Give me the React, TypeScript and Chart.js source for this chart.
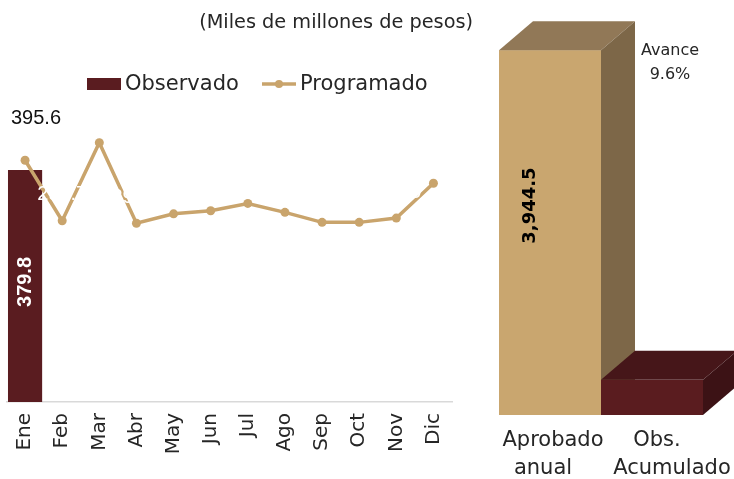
import React, { useEffect, useRef } from "react";
import { Chart, registerables } from "chart.js";

Chart.register(...registerables);

const months = ["Ene", "Feb", "Mar", "Abr", "May", "Jun", "Jul", "Ago", "Sep", "Oct", "Nov", "Dic"];
const observado: (number | null)[] = [379.8, null, null, null, null, null, null, null, null, null, null, null];
const programado = [395.6, 296.7, 424.4, 292.5, 308.0, 313.0, 325.0, 310.4, 294.0, 294.0, 301.0, 358.0];

const summaryCategories = [["Aprobado", "anual"], ["Obs.", "Acumulado"]];
const summaryValues = [3944.5, 379.8];
const avanceText = ["Avance", "9.6%"];
const titleText = "(Miles de millones de pesos)";

const MAROON = "#5a1c20";
const TAN = "#c9a46c";
const TEXT = "#262626";
const FONT = "'DejaVu Sans', sans-serif";
const NUMFONT = "'Liberation Sans', Arial, sans-serif";

const fmt = (v: number) => v.toLocaleString("en-US", { minimumFractionDigits: 1, maximumFractionDigits: 1 });

const leftPlugin = {
  id: "leftDecor",
  afterDatasetsDraw(chart: any) {
    const ctx = chart.ctx;
    ctx.save();
    // title
    ctx.fillStyle = TEXT;
    ctx.font = `19.3px ${FONT}`;
    ctx.textAlign = "right";
    ctx.textBaseline = "middle";
    ctx.fillText(titleText, 473, 23);

    // legend
    ctx.fillStyle = MAROON;
    ctx.fillRect(87, 78, 34, 12);
    ctx.fillStyle = TEXT;
    ctx.font = `21px ${FONT}`;
    ctx.textAlign = "left";
    ctx.fillText(chart.data.datasets[1].label, 125, 85);
    ctx.strokeStyle = TAN;
    ctx.lineWidth = 3.5;
    ctx.beginPath();
    ctx.moveTo(262, 84);
    ctx.lineTo(296, 84);
    ctx.stroke();
    ctx.fillStyle = TAN;
    ctx.beginPath();
    ctx.arc(279, 84, 4, 0, Math.PI * 2);
    ctx.fill();
    ctx.fillStyle = TEXT;
    ctx.fillText(chart.data.datasets[0].label, 300, 85);

    // line labels
    const lineMeta = chart.getDatasetMeta(0);
    ctx.font = `20px ${NUMFONT}`;
    lineMeta.data.forEach((pt: any, i: number) => {
      const v = programado[i];
      if (i === 0) {
        ctx.fillStyle = "#111111";
        ctx.textAlign = "left";
        ctx.fillText(fmt(v), 11, 118);
      } else {
        ctx.fillStyle = "#ffffff";
        ctx.textAlign = "center";
        ctx.fillText(fmt(v), pt.x, pt.y - 26);
      }
    });

    // bar label
    const barMeta = chart.getDatasetMeta(1);
    barMeta.data.forEach((bar: any, i: number) => {
      const v = observado[i];
      if (v == null) return;
      const cy = (bar.y + bar.base) / 2 - 4;
      ctx.save();
      ctx.translate(bar.x, cy);
      ctx.rotate(-Math.PI / 2);
      ctx.fillStyle = "#ffffff";
      ctx.font = `bold 20px ${NUMFONT}`;
      ctx.textAlign = "center";
      ctx.textBaseline = "middle";
      ctx.fillText(fmt(v), 0, 0);
      ctx.restore();
    });
    ctx.restore();
  },
};

const FACES = [
  { front: "#c9a66f", top: "#917857", side: "#7d6748" },
  { front: "#5a1c1f", top: "#461619", side: "#3c1215" },
];
const DX = 34;
const DY = 29;
const LABEL_OFFSETS = [[3, -7], [5, 20]];

const rightPlugin = {
  id: "rightDecor",
  afterDatasetsDraw(chart: any) {
    const ctx = chart.ctx;
    const meta = chart.getDatasetMeta(0);
    ctx.save();
    meta.data.forEach((bar: any, i: number) => {
      const c = FACES[i];
      const l = bar.x - bar.width / 2;
      const r = bar.x + bar.width / 2;
      const t = bar.y;
      const b = bar.base;
      // front
      ctx.fillStyle = c.front;
      ctx.fillRect(l, t, r - l, b - t);
      // top
      ctx.fillStyle = c.top;
      ctx.beginPath();
      ctx.moveTo(l, t);
      ctx.lineTo(l + DX, t - DY);
      ctx.lineTo(r + DX, t - DY);
      ctx.lineTo(r, t);
      ctx.closePath();
      ctx.fill();
      // side
      ctx.fillStyle = c.side;
      ctx.beginPath();
      ctx.moveTo(r, t);
      ctx.lineTo(r + DX, t - DY);
      ctx.lineTo(r + DX, b - DY);
      ctx.lineTo(r, b);
      ctx.closePath();
      ctx.fill();
    });

    // value label on the big bar
    const big = meta.data[0];
    ctx.save();
    ctx.translate(big.x - 20, (big.y + big.base) / 2 - 27);
    ctx.rotate(-Math.PI / 2);
    ctx.fillStyle = "#000000";
    ctx.font = `bold 18px ${FONT}`;
    ctx.textAlign = "center";
    ctx.textBaseline = "middle";
    ctx.fillText(fmt(summaryValues[0]), 0, 0);
    ctx.restore();

    // Avance
    ctx.fillStyle = TEXT;
    ctx.font = `16px ${FONT}`;
    ctx.textAlign = "center";
    ctx.textBaseline = "middle";
    const ax = big.x + big.width / 2 + DX + 35;
    ctx.fillText(avanceText[0], ax, 51);
    ctx.fillText(avanceText[1], ax, 75);

    // category labels
    ctx.font = `21px ${FONT}`;
    ctx.fillStyle = TEXT;
    meta.data.forEach((bar: any, i: number) => {
      const lines = summaryCategories[i];
      ctx.fillText(lines[0], bar.x + LABEL_OFFSETS[i][0], bar.base + 26);
      ctx.fillText(lines[1], bar.x + LABEL_OFFSETS[i][1], bar.base + 54);
    });
    ctx.restore();
  },
};

export default function App() {
  const leftRef = useRef<HTMLCanvasElement>(null);
  const rightRef = useRef<HTMLCanvasElement>(null);

  useEffect(() => {
    const left = new Chart(leftRef.current!, {
      type: "bar",
      data: {
        labels: months,
        datasets: [
          {
            type: "line",
            label: "Programado",
            data: programado,
            borderColor: TAN,
            backgroundColor: TAN,
            borderWidth: 3.5,
            pointRadius: 4.5,
            pointHoverRadius: 4.5,
            pointBackgroundColor: TAN,
            pointBorderWidth: 0,
            tension: 0,
            order: 0,
          } as any,
          {
            type: "bar",
            label: "Observado",
            data: observado,
            backgroundColor: MAROON,
            barPercentage: 0.92,
            categoryPercentage: 1,
            order: 1,
          } as any,
        ],
      },
      options: {
        responsive: false,
        animation: false,
        devicePixelRatio: 1,
        events: [],
        layout: { padding: { left: 6.5, right: 28, top: 96.5, bottom: 0 } },
        plugins: { legend: { display: false }, tooltip: { enabled: false } },
        scales: {
          x: {
            grid: { display: false, drawTicks: false },
            border: { display: true, color: "#d9d9d9", width: 1.5 },
            ticks: {
              font: { family: "DejaVu Sans", size: 20 },
              color: TEXT,
              minRotation: 90,
              maxRotation: 90,
              padding: 11,
              autoSkip: false,
            },
            afterFit: (s: any) => {
              s.height = 77;
              s.paddingLeft = 0;
              s.paddingRight = 0;
            },
          },
          y: { display: false, min: 0, max: 500 },
        },
      },
      plugins: [leftPlugin],
    });

    const right = new Chart(rightRef.current!, {
      type: "bar",
      data: {
        labels: summaryCategories.map((l) => l.join(" ")),
        datasets: [
          {
            data: summaryValues,
            backgroundColor: "rgba(0,0,0,0)",
            barPercentage: 1,
            categoryPercentage: 1,
          },
        ],
      },
      options: {
        responsive: false,
        animation: false,
        devicePixelRatio: 1,
        events: [],
        layout: { padding: { left: 19, right: 31, top: 45, bottom: 0 } },
        plugins: { legend: { display: false }, tooltip: { enabled: false } },
        scales: {
          x: {
            grid: { display: false, drawTicks: false },
            border: { display: false },
            ticks: { display: false },
            afterFit: (s: any) => {
              s.height = 64;
              s.paddingLeft = 0;
              s.paddingRight = 0;
            },
          },
          y: { display: false, min: 0, max: 4000 },
        },
      },
      plugins: [rightPlugin],
    });

    return () => {
      left.destroy();
      right.destroy();
    };
  }, []);

  return (
    <div style={{ position: "absolute", left: 0, top: 0, width: 734, height: 479, background: "#ffffff", overflow: "hidden" }}>
      <canvas ref={leftRef} width={480} height={479} style={{ position: "absolute", left: 0, top: 0 }} />
      <canvas ref={rightRef} width={254} height={479} style={{ position: "absolute", left: 480, top: 0 }} />
    </div>
  );
}
